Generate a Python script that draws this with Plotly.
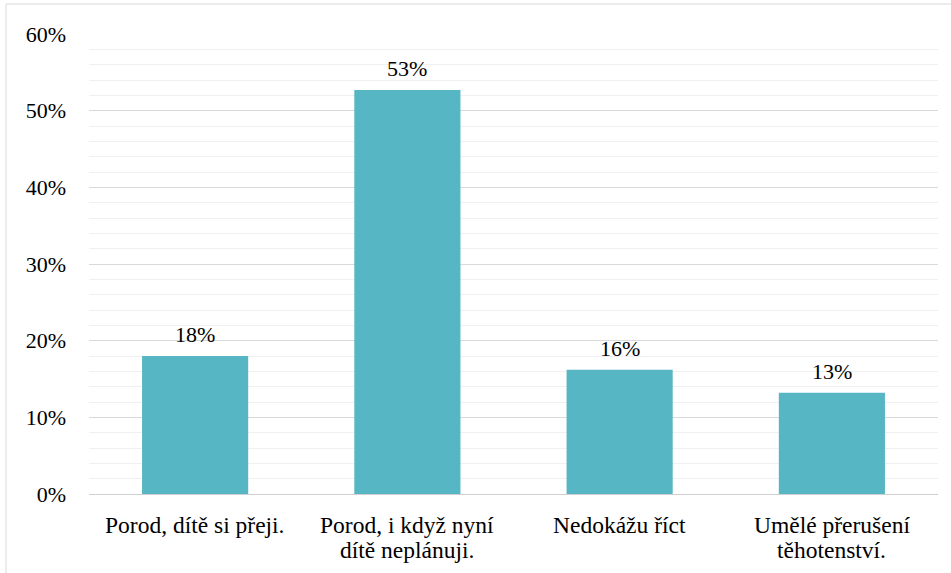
import plotly.graph_objects as go

categories = ['Porod, dítě si přeji.', 'Porod, i když nyní dítě neplánuji.',
              'Nedokážu říct', 'Umělé přerušení těhotenství.']
category_lines = [['Porod, dítě si přeji.'],
                  ['Porod, i když nyní', 'dítě neplánuji.'],
                  ['Nedokážu říct'],
                  ['Umělé přerušení', 'těhotenství.']]
shares = [0.18, 0.527, 0.162, 0.132]
labels = ['18%', '53%', '16%', '13%']

font = 'Liberation Serif, Times New Roman, serif'

fig = go.Figure()

fig.add_trace(go.Bar(
    x=categories,
    y=shares,
    marker=dict(color='#56b6c3', line=dict(width=0)),
    width=0.5,
))

# value labels above the bars
for cat, val, lab in zip(categories, shares, labels):
    fig.add_annotation(x=cat, y=val, text=lab, showarrow=False,
                       yanchor='bottom', yshift=7,
                       font=dict(family=font, size=22, color='#000000'))

# category labels, one annotation per line to keep the line spacing tight
for cat, lines in zip(categories, category_lines):
    for i, line in enumerate(lines):
        fig.add_annotation(x=cat, y=0, yref='y', text=line, showarrow=False,
                           yanchor='middle', yshift=-31 - 25 * i,
                           font=dict(family=font, size=23.5, color='#000000'))

fig.update_layout(
    width=951, height=573,
    paper_bgcolor='white',
    plot_bgcolor='white',
    showlegend=False,
    font=dict(family=font, size=22, color='#000000'),
    margin=dict(l=89, r=13, t=34, b=79),
)

fig.update_yaxes(
    range=[0, 0.6],
    dtick=0.1,
    tickformat='.0%',
    gridcolor='#d9d9d9',
    gridwidth=1,
    zeroline=False,
    ticklabelstandoff=22,
    minor=dict(dtick=0.02, showgrid=True, gridcolor='#f0f0f0', gridwidth=1),
)
fig.update_xaxes(
    showline=True,
    linecolor='#d0d0d0',
    linewidth=1,
    showticklabels=False,
)

# outer frame of the chart
fig.add_shape(type='rect', xref='paper', yref='paper',
              x0=(6 - 89) / 849, x1=1.2, y0=-0.4, y1=1 + 30 / 460,
              line=dict(color='#d9d9d9', width=1), layer='below')

fig.write_html('out.html', config={'displayModeBar': False},
               post_script="document.body.style.margin='0';")
